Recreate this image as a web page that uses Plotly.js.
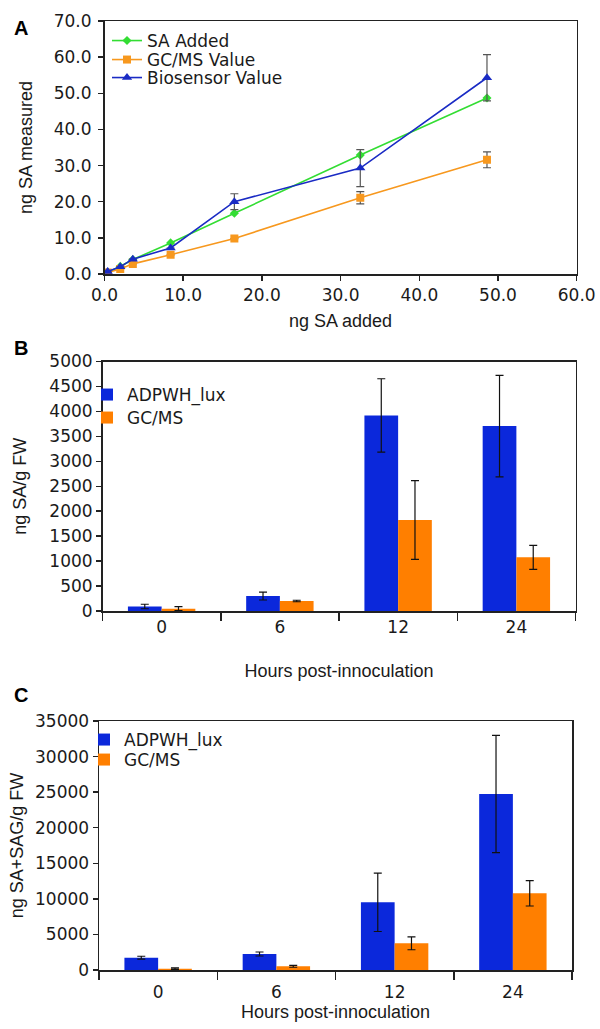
<!DOCTYPE html>
<html>
<head>
<meta charset="utf-8">
<script src="https://cdn.plot.ly/plotly-3.0.1.min.js"></script>
<style>html,body{margin:0;padding:0;background:#fff;}#chart{width:600px;height:1029px;}</style>
</head>
<body>
<div id="chart"></div>
<script>
// ---- Panel A data ----
const aX = [0.4, 2.0, 3.6, 8.4, 16.5, 32.5, 48.6];
const aSAAdded = [0.5, 2.1, 4.0, 8.6, 16.8, 32.9, 48.7];
const aGCMS = [0.4, 1.4, 2.8, 5.3, 9.8, 21.1, 31.6];
const aGCMSErr = [null, null, null, null, null, 1.7, 2.2];
const aBiosensor = [0.7, 2.0, 4.1, 7.2, 20.0, 29.3, 54.3];
const aBiosensorErr = [null, null, null, null, 2.2, 5.1, 6.4];

// ---- Panel B data ----
const hours = ["0", "6", "12", "24"];
const bLux = [90, 300, 3919, 3705];
const bLuxErr = [45, 80, 735, 1018];
const bGC = [47, 200, 1823, 1075];
const bGCErr = [40, 15, 790, 240];

// ---- Panel C data ----
const cLux = [1734, 2250, 9513, 24742];
const cLuxErr = [200, 280, 4100, 8250];
const cGC = [190, 515, 3749, 10778];
const cGCErr = [100, 130, 900, 1780];

const W = 600, H = 1029;
const px = v => v / W;
const py = v => 1 - v / H;

const tickFont = {family: "DejaVu Sans", size: 17, color: "#1a1a1a"};
const titleFont = {family: "Liberation Sans, Arial", size: 18, color: "#1a1a1a"};
const legFont = {family: "DejaVu Sans", size: 17, color: "#1a1a1a"};

const blueBar = "#0b28db", orangeBar = "#ff7f00";

const traces = [
  {x: aX, y: aSAAdded, name: "SA Added", type: "scatter", mode: "lines+markers", showlegend: true,
   line: {color: "#33dd33", width: 1.6}, marker: {symbol: "diamond", size: 7, color: "#33dd33"},
   xaxis: "x", yaxis: "y", legend: "legend"},
  {x: aX, y: aGCMS, name: "GC/MS Value", type: "scatter", mode: "lines+markers", showlegend: true,
   line: {color: "#f7981e", width: 1.6}, marker: {symbol: "square", size: 8, color: "#f7981e"},
   error_y: {type: "data", array: aGCMSErr, color: "#555", thickness: 1.2, width: 4},
   xaxis: "x", yaxis: "y", legend: "legend2"},
  {x: aX, y: aBiosensor, name: "Biosensor Value", type: "scatter", mode: "lines+markers", showlegend: true,
   line: {color: "#1a2bc4", width: 1.6}, marker: {symbol: "triangle-up", size: 9, color: "#1a2bc4"},
   error_y: {type: "data", array: aBiosensorErr, color: "#555", thickness: 1.2, width: 4},
   xaxis: "x", yaxis: "y", legend: "legend3"},

  {x: hours, y: bLux, name: "ADPWH_lux", type: "bar", marker: {color: blueBar}, showlegend: true,
   error_y: {type: "data", array: bLuxErr, color: "#111", thickness: 1.2, width: 4},
   xaxis: "x2", yaxis: "y2", legend: "legend4"},
  {x: hours, y: bGC, name: "GC/MS", type: "bar", marker: {color: orangeBar}, showlegend: true,
   error_y: {type: "data", array: bGCErr, color: "#111", thickness: 1.2, width: 4},
   xaxis: "x2", yaxis: "y2", legend: "legend5"},

  {x: hours, y: cLux, name: "ADPWH_lux", type: "bar", marker: {color: blueBar}, showlegend: true,
   error_y: {type: "data", array: cLuxErr, color: "#111", thickness: 1.2, width: 4},
   xaxis: "x3", yaxis: "y3", legend: "legend6"},
  {x: hours, y: cGC, name: "GC/MS", type: "bar", marker: {color: orangeBar}, showlegend: true,
   error_y: {type: "data", array: cGCErr, color: "#111", thickness: 1.2, width: 4},
   xaxis: "x3", yaxis: "y3", legend: "legend7"}
];

const axBase = {showgrid: false, zeroline: false, showline: true, linecolor: "#222", linewidth: 1.5,
  mirror: true, ticks: "outside", ticklen: 5, tickcolor: "#222", tickwidth: 1.5, tickfont: tickFont};

function leg(x, yc) {
  return {font: legFont, bgcolor: "rgba(0,0,0,0)", borderwidth: 0, xanchor: "left", yanchor: "middle",
    itemwidth: 30, x: px(x), y: py(yc), visible: true};
}

const layout = {
  width: W, height: H, margin: {l: 0, r: 0, t: 0, b: 0},
  paper_bgcolor: "#fff", plot_bgcolor: "#fff", showlegend: true,
  barmode: "group", bargap: 0.43, bargroupgap: 0,
  xaxis: Object.assign({}, axBase, {domain: [px(104.5), px(576.7)], anchor: "y", range: [0, 60], dtick: 10,
    tickformat: ".1f", title: {text: "ng SA added", font: titleFont, standoff: 10}}),
  yaxis: Object.assign({}, axBase, {domain: [py(274), py(21)], anchor: "x", range: [0, 70], dtick: 10,
    tickformat: ".1f", ticklabelstandoff: 3, title: {text: "ng SA measured", font: titleFont, standoff: 16}}),
  xaxis2: Object.assign({}, axBase, {domain: [px(102.5), px(575.5)], anchor: "y2", type: "category",
    tickson: "boundaries", ticklen: 8, title: {text: "Hours post-innoculation", font: titleFont, standoff: 28}}),
  yaxis2: Object.assign({}, axBase, {domain: [py(611), py(361.5)], anchor: "x2", range: [0, 5000], dtick: 500,
    tickformat: "d", title: {text: "ng SA/g FW", font: titleFont, standoff: 18}}),
  xaxis3: Object.assign({}, axBase, {domain: [px(99), px(572)], anchor: "y3", type: "category",
    tickson: "boundaries", ticklen: 8, ticklabelstandoff: 6, title: {text: "Hours post-innoculation", font: titleFont, standoff: 4}}),
  yaxis3: Object.assign({}, axBase, {domain: [py(970), py(721)], anchor: "x3", range: [0, 35000], dtick: 5000,
    tickformat: "d", title: {text: "ng SA+SAG/g FW", font: titleFont, standoff: 6}}),
  legend: leg(107, 41),
  legend2: leg(107, 60),
  legend3: leg(107, 78),
  legend4: leg(87, 395),
  legend5: leg(87, 418),
  legend6: leg(84, 740),
  legend7: leg(84, 760),
  annotations: [
    {text: "<b>A</b>", x: px(11.5), y: py(15), xref: "paper", yref: "paper", showarrow: false,
     font: {family: "Liberation Sans, Arial", size: 20, color: "#000"}},
    {text: "<b>B</b>", x: px(11.5), y: py(348), xref: "paper", yref: "paper", showarrow: false,
     font: {family: "Liberation Sans, Arial", size: 20, color: "#000"}},
    {text: "<b>C</b>", x: px(11.5), y: py(708), xref: "paper", yref: "paper", showarrow: false,
     font: {family: "Liberation Sans, Arial", size: 20, color: "#000"}}
  ]
};

Plotly.newPlot("chart", traces, layout, {displayModeBar: false, staticPlot: true});
</script>
</body>
</html>
